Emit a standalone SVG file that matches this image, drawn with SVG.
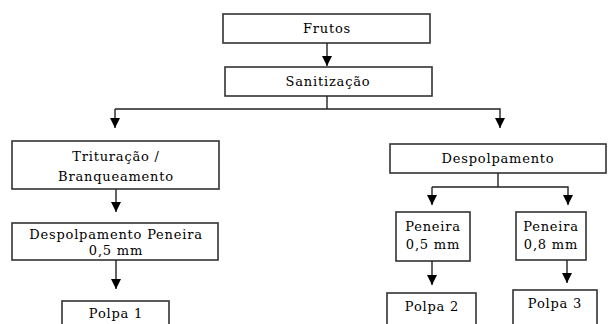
<svg xmlns="http://www.w3.org/2000/svg" width="614" height="324" viewBox="0 0 614 324">
<defs>
<marker id="ah" markerWidth="10" markerHeight="10" refX="10" refY="5" orient="auto" markerUnits="userSpaceOnUse" viewBox="0 0 10 10">
<path d="M0,0 L10,5 L0,10 Z" fill="#000"/>
</marker>
</defs>
<style>
.box{fill:#fff;stroke:#333;stroke-width:1.6}
.t{font-family:"DejaVu Serif","Liberation Serif",serif;font-size:13px;letter-spacing:0.8px;fill:#000;text-anchor:middle}
.c{fill:none;stroke:#222;stroke-width:1.4}
</style>
<rect width="614" height="324" fill="#fff"/>
<g id="frutos"><rect class="box" x="223" y="14" width="207" height="29"/><text class="t" x="327" y="33">Frutos</text></g>
<g id="sanitizacao"><rect class="box" x="225" y="67" width="207" height="29"/><text class="t" x="328" y="86">Sanitização</text></g>
<g id="trituracao"><rect class="box" x="12" y="141" width="207" height="48"/><text class="t" x="116" y="161">Trituração /</text><text class="t" x="116" y="181">Branqueamento</text></g>
<g id="despolpamento1"><rect class="box" x="12" y="223" width="206" height="37"/><text class="t" x="116" y="239">Despolpamento Peneira</text><text class="t" x="116" y="255">0,5 mm</text></g>
<g id="polpa1"><rect class="box" x="62" y="301" width="107" height="30"/><text class="t" x="116" y="318">Polpa 1</text></g>
<g id="despolpamento2"><rect class="box" x="390" y="144" width="216" height="29"/><text class="t" x="498" y="163">Despolpamento</text></g>
<g id="peneira05"><rect class="box" x="396" y="212" width="74" height="49"/><text class="t" x="433" y="231">Peneira</text><text class="t" x="433" y="249">0,5 mm</text></g>
<g id="peneira08"><rect class="box" x="516" y="212" width="70" height="48"/><text class="t" x="551" y="231">Peneira</text><text class="t" x="551" y="249">0,8 mm</text></g>
<g id="polpa2"><rect class="box" x="387" y="293" width="89" height="40"/><text class="t" x="432" y="311">Polpa 2</text></g>
<g id="polpa3"><rect class="box" x="513" y="290" width="84" height="40"/><text class="t" x="555" y="308">Polpa 3</text></g>
<g id="connectors">
<path class="c" d="M327,43 V66" marker-end="url(#ah)"/>
<path class="c" d="M327,96 V109"/>
<path class="c" d="M115,109 H500 V128" marker-end="url(#ah)"/>
<path class="c" d="M115,109 V128" marker-end="url(#ah)"/>
<path class="c" d="M116,189 V212" marker-end="url(#ah)"/>
<path class="c" d="M116,260 V289" marker-end="url(#ah)"/>
<path class="c" d="M498,173 V187"/>
<path class="c" d="M432,187 H568 V205" marker-end="url(#ah)"/>
<path class="c" d="M432,187 V205" marker-end="url(#ah)"/>
<path class="c" d="M432,261 V285" marker-end="url(#ah)"/>
<path class="c" d="M567,260 V283" marker-end="url(#ah)"/>
</g>
</svg>
